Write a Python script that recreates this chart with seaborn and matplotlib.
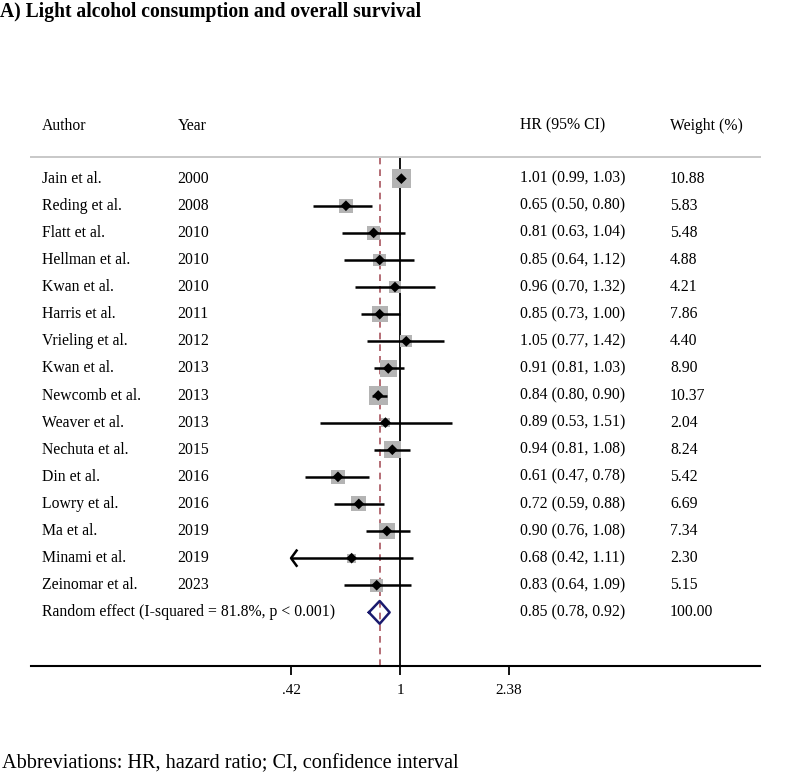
import numpy as np
import pandas as pd
import seaborn as sns
import matplotlib.pyplot as plt
from matplotlib.transforms import blended_transform_factory
from matplotlib.lines import Line2D

# study data
authors = ['Jain et al.', 'Reding et al.', 'Flatt et al.', 'Hellman et al.', 'Kwan et al.',
           'Harris et al.', 'Vrieling et al.', 'Kwan et al.', 'Newcomb et al.', 'Weaver et al.',
           'Nechuta et al.', 'Din et al.', 'Lowry et al.', 'Ma et al.', 'Minami et al.',
           'Zeinomar et al.']
years = [2000, 2008, 2010, 2010, 2010, 2011, 2012, 2013, 2013, 2013, 2015, 2016, 2016, 2019, 2019, 2023]
hr = [1.01, 0.65, 0.81, 0.85, 0.96, 0.85, 1.05, 0.91, 0.84, 0.89, 0.94, 0.61, 0.72, 0.90, 0.68, 0.83]
lower = [0.99, 0.50, 0.63, 0.64, 0.70, 0.73, 0.77, 0.81, 0.80, 0.53, 0.81, 0.47, 0.59, 0.76, 0.42, 0.64]
upper = [1.03, 0.80, 1.04, 1.12, 1.32, 1.00, 1.42, 1.03, 0.90, 1.51, 1.08, 0.78, 0.88, 1.08, 1.11, 1.09]
weights = [10.88, 5.83, 5.48, 4.88, 4.21, 7.86, 4.40, 8.90, 10.37, 2.04, 8.24, 5.42, 6.69, 7.34, 2.30, 5.15]

pooled_label = 'Random effect (I-squared = 81.8%, p < 0.001)'
pooled_hr, pooled_lo, pooled_hi = 0.85, 0.78, 0.92
x_ticks = [0.42, 1, 2.38]
x_ticklabels = ['.42', '1', '2.38']

df = pd.DataFrame({'author': authors, 'year': years, 'hr': hr,
                   'lo': lower, 'hi': upper, 'w': weights})
df['row'] = np.arange(len(df))
pooled_row = len(df)

plt.rcParams['font.family'] = ['Liberation Serif', 'DejaVu Serif']

fig = plt.figure(figsize=(7.87, 7.78), dpi=100)
ax = fig.add_axes([0.0394, 0.1446, 0.9263, 0.6540])
ax.set_xscale('log')
ax.set_xlim(0.0531, 17.5)
ax.set_ylim(17.96, -0.81)

axis_min = min(x_ticks)

# reference lines
ax.axvline(1, color='black', lw=1.3, zorder=1)
ax.axvline(pooled_hr, color='#a8545e', lw=1.2, ls=(0, (4, 3)), zorder=1)

# weight boxes
sns.scatterplot(data=df, x='hr', y='row', size='w', sizes=(2.04 * 17.5, 10.88 * 17.5),
                size_norm=(2.04, 10.88), marker='s', color='#b4b4b4', edgecolor='none',
                legend=False, ax=ax, zorder=2)

# confidence intervals
for _, r in df.iterrows():
    lo = max(r['lo'], axis_min)
    ax.plot([lo, r['hi']], [r['row'], r['row']], color='black', lw=1.8, zorder=3,
            solid_capstyle='butt')
    if r['lo'] <= axis_min:
        ax.plot([lo * 1.045, lo, lo * 1.045], [r['row'] - 0.28, r['row'], r['row'] + 0.28],
                color='black', lw=1.8, zorder=3)

# point estimates
sns.scatterplot(data=df, x='hr', y='row', marker='D', s=30, color='black',
                edgecolor='none', legend=False, ax=ax, zorder=4)

# pooled diamond
dx = [pooled_lo, pooled_hr, pooled_hi, pooled_hr, pooled_lo]
dy = [pooled_row, pooled_row - 0.42, pooled_row, pooled_row + 0.42, pooled_row]
ax.plot(dx, dy, color='#1a1a6e', lw=1.8, zorder=5)

# axes styling
for s in ['top', 'left', 'right']:
    ax.spines[s].set_visible(False)
ax.spines['bottom'].set_linewidth(1.5)
ax.set_xticks(x_ticks)
ax.set_xticklabels(x_ticklabels)
ax.minorticks_off()
ax.tick_params(axis='x', length=6.5, width=1.3, labelsize=11, pad=7)
ax.set_yticks([])
ax.set_xlabel('')
ax.set_ylabel('')

# header separator
ax.add_line(Line2D([0, 1], [0.9993, 0.9993], transform=ax.transAxes, color='#c8c8c8',
                   lw=1.4, clip_on=False))

# text columns
tr = blended_transform_factory(ax.transAxes, ax.transData)
fs = 11.3
col_author, col_year, col_hr, col_w = 0.0147, 0.2010, 0.6708, 0.8765
header_row = -1.95
ax.text(col_author, header_row, 'Author', transform=tr, fontsize=fs, va='center', clip_on=False)
ax.text(col_year, header_row, 'Year', transform=tr, fontsize=fs, va='center', clip_on=False)
ax.text(col_hr, header_row, 'HR (95% CI)', transform=tr, fontsize=fs, va='center', clip_on=False)
ax.text(col_w, header_row, 'Weight (%)', transform=tr, fontsize=fs, va='center', clip_on=False)

for _, r in df.iterrows():
    ax.text(col_author, r['row'], r['author'], transform=tr, fontsize=fs, va='center')
    ax.text(col_year, r['row'], str(r['year']), transform=tr, fontsize=fs, va='center')
    ax.text(col_hr, r['row'], f"{r['hr']:.2f} ({r['lo']:.2f}, {r['hi']:.2f})",
            transform=tr, fontsize=fs, va='center')
    ax.text(col_w, r['row'], f"{r['w']:.2f}", transform=tr, fontsize=fs, va='center')

ax.text(col_author, pooled_row, pooled_label, transform=tr, fontsize=fs, va='center')
ax.text(col_hr, pooled_row, f"{pooled_hr:.2f} ({pooled_lo:.2f}, {pooled_hi:.2f})",
        transform=tr, fontsize=fs, va='center')
ax.text(col_w, pooled_row, f"{100:.2f}", transform=tr, fontsize=fs, va='center')

fig.text(0.0, 1 - 12 / 778, 'A) Light alcohol consumption and overall survival',
         fontsize=14.1, fontweight='bold', va='center', ha='left')
fig.text(0.002, 1 - 764 / 778, 'Abbreviations: HR, hazard ratio; CI, confidence interval',
         fontsize=14.6, va='center', ha='left')

fig.savefig('out.png', dpi=100)
